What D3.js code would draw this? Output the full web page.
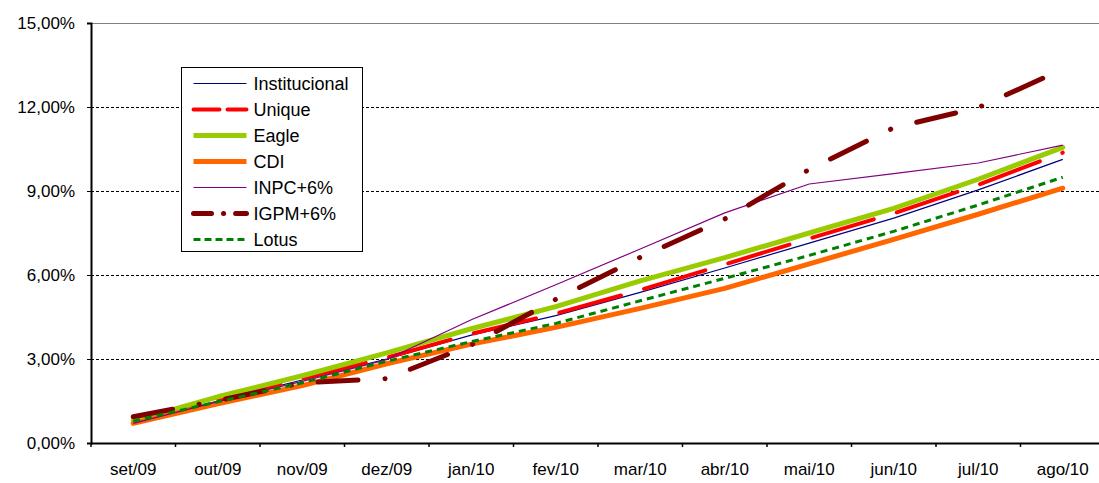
<!DOCTYPE html>
<html>
<head>
<meta charset="utf-8">
<script src="https://cdnjs.cloudflare.com/ajax/libs/d3/7.8.5/d3.min.js"></script>
<style>
  body { margin: 0; background: #fff; }
  text { font-family: "Liberation Sans", Arial, sans-serif; fill: #000; }
</style>
</head>
<body>
<script>
// data (percent)
let months = ["set/09", "out/09", "nov/09", "dez/09", "jan/10", "fev/10", "mar/10", "abr/10", "mai/10", "jun/10", "jul/10", "ago/10"]
let yTicks = [0, 3, 6, 9, 12, 15]

let institucional = [0.72, 1.5, 2.25, 3.0, 3.85, 4.55, 5.38, 6.25, 7.14, 8.03, 9.04, 10.13]
let unique = [0.74, 1.55, 2.3, 3.05, 3.9, 4.62, 5.46, 6.38, 7.3, 8.2, 9.22, 10.37]
let eagle = [0.8, 1.65, 2.4, 3.22, 4.08, 4.87, 5.79, 6.62, 7.5, 8.38, 9.42, 10.56]
let cdi = [0.7, 1.4, 2.05, 2.83, 3.53, 4.13, 4.81, 5.52, 6.4, 7.27, 8.17, 9.1]
let inpc = [0.7, 1.48, 2.2, 2.98, 4.4, 5.65, 6.93, 8.22, 9.25, 9.62, 10.0, 10.64]
let igpm = [0.94, 1.51, 2.15, 2.3, 3.5, 5.13, 6.63, 8.0, 9.77, 11.26, 11.98, 13.35]
let lotus = [0.78, 1.47, 2.15, 2.92, 3.62, 4.27, 5.08, 5.88, 6.7, 7.56, 8.5, 9.49]

let names = ["Institucional", "Unique", "Eagle", "CDI", "INPC+6%", "IGPM+6%", "Lotus"]
let values = [institucional, unique, eagle, cdi, inpc, igpm, lotus]

// styles for each series: colour, width, dash in plot, dash in legend, cap
let styles = [
  { color: "#000080", w: 1.2, dash: null, ldash: null, cap: "butt" },
  { color: "#ff0000", w: 4, dash: "64,24", ldash: "26,8", cap: "round" },
  { color: "#99cc00", w: 5, dash: null, ldash: null, cap: "round" },
  { color: "#ff6600", w: 5, dash: null, ldash: null, cap: "round" },
  { color: "#800080", w: 1.2, dash: null, ldash: null, cap: "butt" },
  { color: "#800000", w: 5, dash: "40,27,0.1,27", ldash: "18,12,0.1,12", cap: "round" },
  { color: "#008000", w: 3, dash: "7,5", ldash: "7,4", cap: "butt" }
]

var svg = d3.select("body").append("svg")
  .attr("width", 1099)
  .attr("height", 483)

let mLeft = 91, mRight = 1105, mTop = 23, mBottom = 443

let x = d3.scaleBand().domain(months).range([mLeft, mRight])
let y = d3.scaleLinear().domain([0, 15]).range([mBottom, mTop])

let fmt = v => d3.format(".2f")(v).replace(".", ",") + "%"

// grid lines (half pixel so they stay crisp)
for (let i = 1; i < yTicks.length; i++) {
  let t = yTicks[i]
  svg.append("line")
    .attr("x1", mLeft).attr("x2", 1099)
    .attr("y1", y(t) + 0.5).attr("y2", y(t) + 0.5)
    .style("stroke", t == 15 ? "#808080" : "#000")
    .style("stroke-width", 1)
    .style("stroke-dasharray", t == 15 ? null : "3,2")
}

// y axis
let yAxis = svg.append("g")
  .attr("transform", "translate(" + mLeft + ",0)")
  .call(d3.axisLeft(y).tickValues(yTicks).tickFormat(fmt).tickSize(4).tickPadding(12))
yAxis.select(".domain").style("stroke", "#000").style("stroke-width", 2)
yAxis.selectAll("text").style("font-size", "17px").style("font-family", "Liberation Sans, Arial, sans-serif")

// x axis (ticks on band edges)
let xAxis = svg.append("g")
  .attr("transform", "translate(0," + mBottom + ")")
  .call(d3.axisBottom(x).tickSize(0).tickPadding(20))
xAxis.select(".domain").style("stroke", "#000").style("stroke-width", 2)
xAxis.selectAll("text").style("font-size", "17px").style("font-family", "Liberation Sans, Arial, sans-serif")
for (let i = 0; i <= months.length; i++) {
  let xx = mLeft + i * x.bandwidth()
  svg.append("line")
    .attr("x1", xx).attr("x2", xx)
    .attr("y1", mBottom).attr("y2", mBottom + 4)
    .style("stroke", "#000").style("stroke-width", 1.5)
}

// the lines
let line = d3.line()
  .x((d, i) => x(months[i]) + x.bandwidth() / 2)
  .y(d => y(d))

for (let s = 0; s < values.length; s++) {
  svg.append("path")
    .datum(values[s])
    .attr("d", line)
    .style("fill", "none")
    .style("stroke", styles[s].color)
    .style("stroke-width", styles[s].w)
    .style("stroke-linecap", styles[s].cap)
    .style("stroke-linejoin", "round")
    .style("stroke-dasharray", styles[s].dash)
}

// legend
let lg = svg.append("g").attr("transform", "translate(181.5,67.5)")
lg.append("rect")
  .attr("x", 0).attr("y", 0)
  .attr("width", 181).attr("height", 184)
  .style("fill", "#fff").style("stroke", "#000").style("stroke-width", 1)

for (let s = 0; s < names.length; s++) {
  let yy = 16 + s * 26
  lg.append("line")
    .attr("x1", 12).attr("x2", 65)
    .attr("y1", yy).attr("y2", yy)
    .style("stroke", styles[s].color)
    .style("stroke-width", styles[s].w)
    .style("stroke-linecap", styles[s].cap == "round" && styles[s].ldash ? "round" : "butt")
    .style("stroke-dasharray", styles[s].ldash)
  lg.append("text")
    .attr("x", 72).attr("y", yy + 6)
    .style("font-size", "18px")
    .text(names[s])
}
</script>
</body>
</html>
